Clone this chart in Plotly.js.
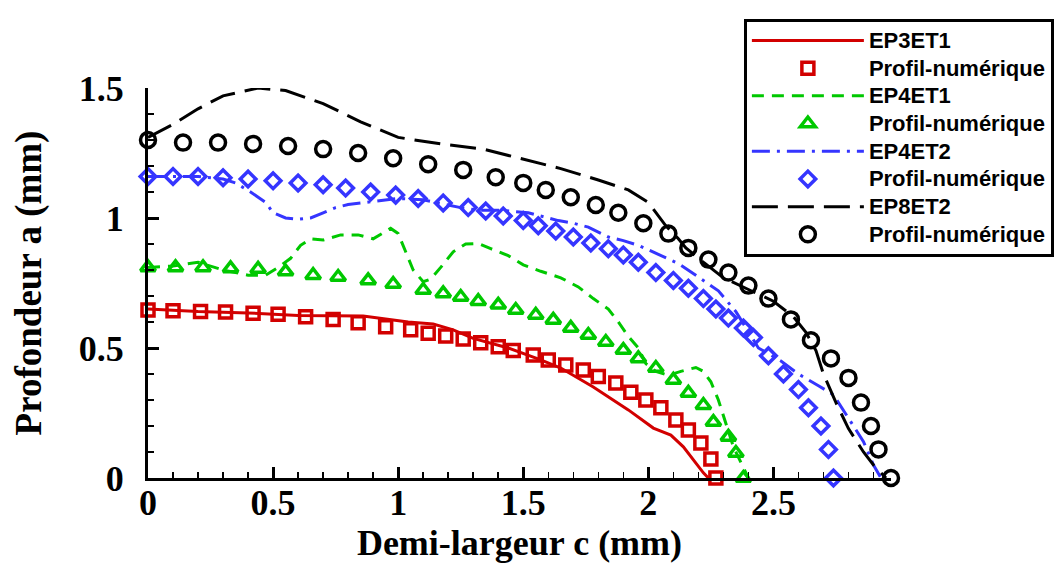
<!DOCTYPE html>
<html>
<head>
<meta charset="utf-8">
<script src="https://cdn.plot.ly/plotly-3.0.1.min.js"></script>
<style>html,body{margin:0;padding:0;background:#fff}#chart{width:1057px;height:566px}</style>
</head>
<body>
<div id="chart"></div>
<script>
// EP3ET1 (experimental profile, red solid line)
const ep3et1_c = [0, 0.2, 0.4, 0.6, 0.86, 1.04, 1.14, 1.22, 1.30, 1.44, 1.57, 1.65, 1.78, 1.92, 2.02, 2.09, 2.14, 2.18, 2.22, 2.24];
const ep3et1_a = [0.65, 0.64, 0.635, 0.625, 0.623, 0.60, 0.592, 0.57, 0.537, 0.50, 0.454, 0.423, 0.35, 0.262, 0.192, 0.165, 0.12, 0.07, 0.02, 0];
// Profil-numérique (red squares)
const num1_c = [0, 0.10, 0.21, 0.31, 0.42, 0.52, 0.63, 0.74, 0.84, 0.95, 1.05, 1.12, 1.19, 1.26, 1.33, 1.40, 1.46, 1.54, 1.60, 1.67, 1.74, 1.80, 1.87, 1.93, 1.99, 2.05, 2.11, 2.16, 2.21, 2.25, 2.27];
const num1_a = [0.646, 0.643, 0.64, 0.638, 0.634, 0.63, 0.62, 0.61, 0.597, 0.582, 0.57, 0.557, 0.546, 0.535, 0.52, 0.505, 0.49, 0.473, 0.454, 0.435, 0.415, 0.39, 0.365, 0.33, 0.30, 0.27, 0.223, 0.185, 0.135, 0.073, 0];

// EP4ET1 (green dashed line)
const ep4et1_c = [0, 0.1, 0.2, 0.3, 0.4, 0.47, 0.52, 0.57, 0.61, 0.65, 0.7, 0.77, 0.84, 0.9, 0.97, 1.0, 1.03, 1.06, 1.1, 1.13, 1.17, 1.22, 1.27, 1.32, 1.37, 1.44, 1.5, 1.57, 1.65, 1.72, 1.78, 1.84, 1.88, 1.92, 1.96, 1.99, 2.03, 2.08, 2.13, 2.19, 2.22, 2.25, 2.28, 2.31, 2.34, 2.37, 2.4];
const ep4et1_a = [0.81, 0.815, 0.83, 0.80, 0.78, 0.78, 0.81, 0.845, 0.895, 0.92, 0.915, 0.935, 0.935, 0.92, 0.96, 0.94, 0.87, 0.80, 0.755, 0.765, 0.81, 0.87, 0.90, 0.902, 0.882, 0.855, 0.82, 0.795, 0.77, 0.735, 0.69, 0.65, 0.60, 0.545, 0.50, 0.44, 0.41, 0.395, 0.41, 0.425, 0.41, 0.37, 0.30, 0.21, 0.12, 0.06, 0];
// Profil-numérique (green triangles)
const num2_c = [0, 0.11, 0.22, 0.33, 0.44, 0.55, 0.66, 0.76, 0.88, 0.98, 1.10, 1.18, 1.25, 1.32, 1.40, 1.47, 1.55, 1.62, 1.69, 1.76, 1.83, 1.90, 1.96, 2.03, 2.10, 2.16, 2.22, 2.26, 2.32, 2.35, 2.38];
const num2_a = [0.81, 0.81, 0.81, 0.806, 0.804, 0.794, 0.78, 0.773, 0.76, 0.746, 0.723, 0.71, 0.696, 0.68, 0.666, 0.646, 0.627, 0.608, 0.577, 0.55, 0.523, 0.492, 0.46, 0.423, 0.377, 0.327, 0.28, 0.215, 0.158, 0.096, 0];

// EP4ET2 (blue dash-dot line)
const ep4et2_c = [0, 0.2, 0.3, 0.35, 0.41, 0.47, 0.5, 0.55, 0.6, 0.65, 0.7, 0.75, 0.8, 0.89, 0.95, 1.0, 1.1, 1.25, 1.32, 1.41, 1.52, 1.64, 1.7, 1.76, 1.84, 1.9, 1.96, 2.0, 2.06, 2.12, 2.2, 2.28, 2.35, 2.44, 2.53, 2.6, 2.68, 2.74, 2.8, 2.86, 2.9, 2.93];
const ep4et2_a = [1.16, 1.16, 1.15, 1.135, 1.10, 1.06, 1.02, 1.0, 0.995, 1.0, 1.02, 1.04, 1.052, 1.062, 1.07, 1.075, 1.07, 1.04, 1.03, 1.03, 1.02, 0.99, 0.98, 0.965, 0.927, 0.913, 0.895, 0.877, 0.85, 0.825, 0.773, 0.72, 0.64, 0.50, 0.45, 0.40, 0.355, 0.32, 0.23, 0.14, 0.05, 0];
// Profil-numérique (blue diamonds)
const num3_c = [0, 0.10, 0.20, 0.30, 0.40, 0.50, 0.60, 0.70, 0.79, 0.89, 0.99, 1.08, 1.18, 1.28, 1.35, 1.42, 1.50, 1.56, 1.63, 1.70, 1.77, 1.84, 1.90, 1.96, 2.03, 2.10, 2.16, 2.22, 2.27, 2.32, 2.38, 2.42, 2.48, 2.54, 2.60, 2.64, 2.69, 2.72, 2.74];
const num3_a = [1.16, 1.16, 1.16, 1.155, 1.15, 1.143, 1.135, 1.128, 1.115, 1.10, 1.088, 1.075, 1.058, 1.04, 1.027, 1.008, 0.99, 0.97, 0.95, 0.927, 0.904, 0.882, 0.858, 0.83, 0.79, 0.76, 0.73, 0.69, 0.65, 0.615, 0.577, 0.54, 0.47, 0.40, 0.34, 0.27, 0.20, 0.11, 0];

// EP8ET2 (black long-dash line)
const ep8et2_c = [0, 0.1, 0.2, 0.3, 0.44, 0.55, 0.7, 0.85, 1.0, 1.17, 1.34, 1.5, 1.65, 1.8, 1.92, 2.0, 2.07, 2.12, 2.15, 2.22, 2.3, 2.4, 2.5, 2.58, 2.63, 2.67, 2.7, 2.75, 2.8, 2.86, 2.9, 2.95];
const ep8et2_a = [1.31, 1.36, 1.42, 1.47, 1.50, 1.49, 1.44, 1.37, 1.31, 1.285, 1.265, 1.225, 1.19, 1.146, 1.108, 1.06, 0.97, 0.92, 0.885, 0.83, 0.77, 0.725, 0.68, 0.62, 0.56, 0.49, 0.40, 0.29, 0.19, 0.10, 0.05, 0];
// Profil-numérique (black circles)
const num4_c = [0, 0.14, 0.28, 0.42, 0.56, 0.70, 0.84, 0.98, 1.12, 1.26, 1.39, 1.50, 1.59, 1.69, 1.79, 1.88, 1.98, 2.08, 2.16, 2.24, 2.32, 2.40, 2.48, 2.57, 2.65, 2.73, 2.80, 2.85, 2.89, 2.92, 2.97];
const num4_a = [1.30, 1.29, 1.29, 1.285, 1.277, 1.265, 1.25, 1.23, 1.207, 1.185, 1.157, 1.135, 1.108, 1.08, 1.05, 1.02, 0.98, 0.94, 0.885, 0.84, 0.79, 0.74, 0.69, 0.61, 0.53, 0.46, 0.385, 0.29, 0.20, 0.11, 0];

const seriesNames = ['EP3ET1', 'Profil-numérique', 'EP4ET1', 'Profil-numérique', 'EP4ET2', 'Profil-numérique', 'EP8ET2', 'Profil-numérique'];
const xTitle = 'Demi-largeur c (mm)';
const yTitle = 'Profondeur a (mm)';

const RED = '#d20000', GREEN = '#00c800', BLUE = '#3535ff', BLACK = '#000000';

function big(name) { return '<span style="font-size:22px">' + name + '</span>'; }
function lineTrace(x, y, name, color, dash) {
  return {x: x, y: y, name: big(name), type: 'scatter', mode: 'lines', cliponaxis: false,
          line: {color: color, width: 3, dash: dash}};
}
function markTrace(x, y, name, color, symbol, size) {
  return {x: x, y: y, name: big(name), type: 'scatter', mode: 'markers', cliponaxis: false,
          marker: {symbol: symbol, size: size, color: color, line: {color: color, width: 3.5}}};
}

const data = [
  lineTrace(ep3et1_c, ep3et1_a, seriesNames[0], RED, 'solid'),
  markTrace(num1_c, num1_a, seriesNames[1], RED, 'square-open', 12),
  lineTrace(ep4et1_c, ep4et1_a, seriesNames[2], GREEN, '12px,8px'),
  markTrace(num2_c, num2_a, seriesNames[3], GREEN, 'triangle-up-open', 13),
  lineTrace(ep4et2_c, ep4et2_a, seriesNames[4], BLUE, '18px,7px,3px,7px'),
  markTrace(num3_c, num3_a, seriesNames[5], BLUE, 'diamond-open', 12),
  lineTrace(ep8et2_c, ep8et2_a, seriesNames[6], BLACK, '26px,10px'),
  markTrace(num4_c, num4_a, seriesNames[7], BLACK, 'circle-open', 15)
];

const serif = 'Liberation Serif, Times New Roman, serif';
const tickFont = {family: serif, size: 36, color: '#000', weight: 'bold'};
const axisCommon = {
  showline: true, linecolor: '#000', linewidth: 3, mirror: false,
  showgrid: false, zeroline: false,
  ticks: 'inside', ticklen: 11, tickwidth: 3, tickcolor: '#000',
  dtick: 0.5, tick0: 0,
  minor: {ticks: 'inside', ticklen: 6, tickwidth: 1.5, tickcolor: '#000', dtick: 0.1, showgrid: false},
  tickfont: tickFont
};

const layout = {
  width: 1057, height: 566,
  margin: {l: 148, r: 166, t: 88, b: 88, autoexpand: false},
  paper_bgcolor: '#fff', plot_bgcolor: '#fff',
  showlegend: true,
  xaxis: Object.assign({}, axisCommon, {
    range: [0, 2.97], ticklabelstandoff: -9,
    title: {text: xTitle, font: {family: serif, size: 36, color: '#000', weight: 'bold'}, standoff: 6}
  }),
  yaxis: Object.assign({}, axisCommon, {
    range: [0, 1.5], ticklabelstandoff: 14,
    title: {text: yTitle, font: {family: serif, size: 37, color: '#000', weight: 'bold'}, standoff: 26}
  }),
  legend: {
    x: 0.802, y: 1.178, xanchor: 'left', yanchor: 'top',
    bgcolor: '#fff', bordercolor: '#000', borderwidth: 3,
    font: {family: 'Liberation Sans, Arial, sans-serif', size: 19, color: '#000', weight: 'bold'},
    itemwidth: 112, tracegroupgap: 0
  }
};

Plotly.newPlot('chart', data, layout, {staticPlot: true, displayModeBar: false});
</script>
</body>
</html>
